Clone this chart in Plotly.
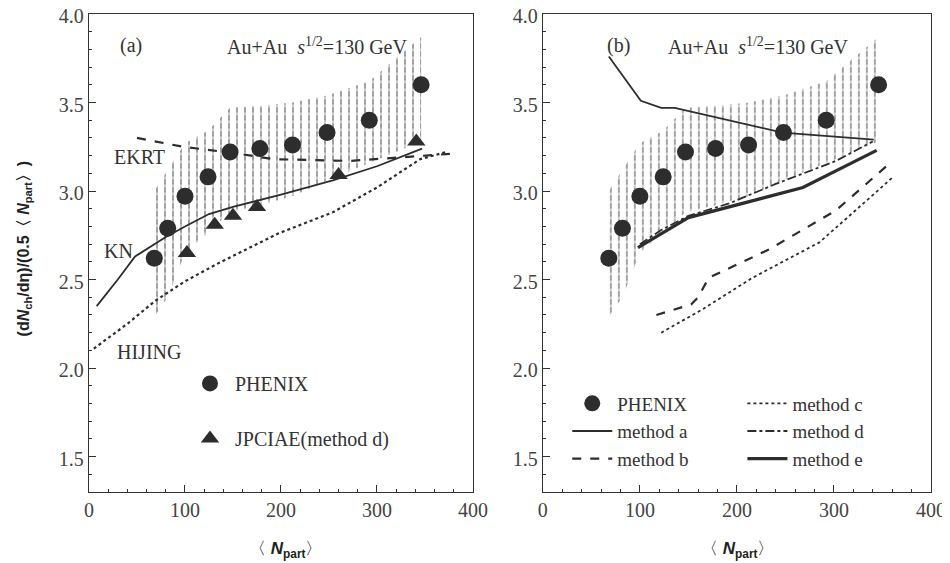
import plotly.graph_objects as go
from plotly.subplots import make_subplots

# PHENIX data with systematic band (both panels)
phenix_npart = [68, 82, 100, 124, 147, 178, 212, 248, 292, 346]
phenix_val = [2.62, 2.79, 2.97, 3.08, 3.22, 3.24, 3.26, 3.33, 3.40, 3.60]
band_hi = [3.00, 3.12, 3.27, 3.34, 3.47, 3.48, 3.50, 3.54, 3.62, 3.87]
band_lo = [2.29, 2.40, 2.65, 2.77, 2.88, 2.92, 2.97, 3.06, 3.16, 3.28]

# panel (a)
jpciae_npart = [102, 131, 150, 175, 260, 341]
jpciae_val = [2.65, 2.81, 2.86, 2.91, 3.09, 3.28]
kn_npart = [8, 30, 48, 65, 80, 100, 125, 150, 200, 254, 300, 347]
kn_val = [2.35, 2.50, 2.63, 2.69, 2.74, 2.80, 2.87, 2.91, 2.98, 3.06, 3.14, 3.24]
ekrt_npart = [50, 98, 157, 192, 272, 330, 376]
ekrt_val = [3.30, 3.25, 3.21, 3.18, 3.17, 3.19, 3.21]
hijing_npart = [5, 40, 69, 100, 134, 197, 254, 300, 345, 372]
hijing_val = [2.11, 2.25, 2.38, 2.49, 2.59, 2.76, 2.88, 3.02, 3.18, 3.22]

# panel (b)
ma_npart = [68, 101, 122, 136, 247, 341]
ma_val = [3.76, 3.51, 3.47, 3.47, 3.33, 3.29]
mb_npart = [117, 153, 160, 171, 233, 302, 354]
mb_val = [2.30, 2.36, 2.40, 2.51, 2.67, 2.89, 3.14]
mc_npart = [122, 164, 216, 285, 320, 361]
mc_val = [2.20, 2.33, 2.51, 2.71, 2.88, 3.08]
md_npart = [100, 122, 150, 192, 240, 302, 340]
md_val = [2.70, 2.78, 2.86, 2.93, 3.04, 3.17, 3.28]
me_npart = [98, 150, 268, 344]
me_val = [2.68, 2.85, 3.02, 3.23]

INK = '#2d2d2d'
SERIF = 'Liberation Serif'

fig = make_subplots(rows=1, cols=2)

# error band: vertical hatching, then white horizontal stripes to break it into dashes
for col in (1, 2):
    for shape, color, solid in (('|', '#3a3a3a', 0.24), ('-', 'white', 0.35)):
        fig.add_trace(go.Scatter(x=phenix_npart, y=band_lo, mode='lines', line=dict(width=0),
                                 showlegend=False, hoverinfo='skip'), row=1, col=col)
        fig.add_trace(go.Scatter(x=phenix_npart, y=band_hi, mode='lines', line=dict(width=0),
                                 fill='tonexty', fillcolor='rgba(0,0,0,0)',
                                 fillpattern=dict(shape=shape, size=8, solidity=solid,
                                                  fgcolor=color, bgcolor='rgba(0,0,0,0)'),
                                 showlegend=False, hoverinfo='skip'), row=1, col=col)

# panel (a) curves
fig.add_trace(go.Scatter(x=hijing_npart, y=hijing_val, mode='lines', line=dict(color=INK, width=2.2, dash='dot'),
                         showlegend=False), row=1, col=1)
fig.add_trace(go.Scatter(x=kn_npart, y=kn_val, mode='lines', line=dict(color=INK, width=1.8),
                         showlegend=False), row=1, col=1)
fig.add_trace(go.Scatter(x=ekrt_npart, y=ekrt_val, mode='lines', line=dict(color=INK, width=2.2, dash='dash'),
                         showlegend=False), row=1, col=1)
fig.add_trace(go.Scatter(x=phenix_npart, y=phenix_val, mode='markers', name='PHENIX',
                         marker=dict(symbol='circle', size=17, color=INK),
                         legend='legend', legendgroup='a1'), row=1, col=1)
fig.add_trace(go.Scatter(x=jpciae_npart, y=jpciae_val, mode='markers', name='JPCIAE(method d)',
                         marker=dict(symbol='triangle-up', size=16, color=INK),
                         legend='legend', legendgroup='a2'), row=1, col=1)

# panel (b) curves
fig.add_trace(go.Scatter(x=phenix_npart, y=phenix_val, mode='markers', name='PHENIX',
                         marker=dict(symbol='circle', size=17, color=INK), legend='legend2'), row=1, col=2)
fig.add_trace(go.Scatter(x=ma_npart, y=ma_val, mode='lines', name='method a',
                         line=dict(color=INK, width=1.8), legend='legend2'), row=1, col=2)
fig.add_trace(go.Scatter(x=mb_npart, y=mb_val, mode='lines', name='method b',
                         line=dict(color=INK, width=2.2, dash='dash'), legend='legend2'), row=1, col=2)
fig.add_trace(go.Scatter(x=mc_npart, y=mc_val, mode='lines', name='method c',
                         line=dict(color=INK, width=1.8, dash='dot'), legend='legend3'), row=1, col=2)
fig.add_trace(go.Scatter(x=md_npart, y=md_val, mode='lines', name='method d',
                         line=dict(color=INK, width=1.8, dash='dashdot'), legend='legend3'), row=1, col=2)
fig.add_trace(go.Scatter(x=me_npart, y=me_val, mode='lines', name='method e',
                         line=dict(color=INK, width=3.2), legend='legend3'), row=1, col=2)

axis_common = dict(showline=True, linecolor='#333', linewidth=1.3, mirror=True, showgrid=False,
                   zeroline=False, ticks='inside', ticklen=7, tickcolor='#333', ticklabeloverflow='allow',
                   automargin=False, tickfont=dict(family=SERIF, size=20, color='#444'))
fig.update_xaxes(range=[0, 400], dtick=100, minor=dict(dtick=20, ticks='inside', ticklen=3, tickcolor='#333'),
                 **axis_common)
fig.update_yaxes(range=[1.3, 4.0], tick0=1.5, dtick=0.5, tickformat='.1f', ticklabelshift=2,
                 minor=dict(dtick=0.1, ticks='inside', ticklen=3, tickcolor='#333'), **axis_common)
fig.update_layout(xaxis=dict(domain=[0, 0.456]), xaxis2=dict(domain=[0.539, 1.0]))

lab = dict(family=SERIF, size=20, color='#333')
notes = [
    ('x', 'y', 44, 3.82, '(a)'),
    ('x', 'y', 238, 3.82, 'Au+Au  <i>s</i><sup>1/2</sup>=130 GeV'),
    ('x', 'y', 53, 3.19, 'EKRT'),
    ('x', 'y', 31, 2.66, 'KN'),
    ('x', 'y', 63, 2.09, 'HIJING'),
    ('x2', 'y2', 78, 3.82, '(b)'),
    ('x2', 'y2', 222, 3.82, 'Au+Au  <i>s</i><sup>1/2</sup>=130 GeV'),
]
for xr, yr, xv, yv, txt in notes:
    fig.add_annotation(xref=xr, yref=yr, x=xv, y=yv, text=txt, showarrow=False, font=lab)

title_font = dict(family='Liberation Sans', size=17, color='#222')
for xp in (0.233, 0.77):
    fig.add_annotation(xref='paper', yref='paper', x=xp, y=-0.121, xanchor='center', yanchor='middle',
                       showarrow=False, font=title_font, text='〈 <b><i>N</i><sub>part</sub></b>〉')
fig.add_annotation(xref='paper', yref='paper', x=-0.077, y=0.51, xanchor='center', yanchor='middle',
                   showarrow=False, font=dict(family='Liberation Sans', size=16, color='#222'),
                   textangle=-90,
                   text='<b>(d<i>N</i><sub>ch</sub>/dη)/(0.5〈 <i>N</i><sub>part</sub>〉)</b>')

leg_font = dict(family=SERIF, size=20, color='#333')
leg_font_b = dict(family=SERIF, size=19, color='#333')
fig.update_layout(
    width=942, height=555,
    margin=dict(l=81, r=19, t=6, b=71, autoexpand=False),
    paper_bgcolor='white', plot_bgcolor='white',
    legend=dict(x=0.114, y=0.268, xanchor='left', yanchor='top', font=leg_font,
                traceorder='grouped', tracegroupgap=26, itemwidth=40, bgcolor='rgba(0,0,0,0)'),
    legend2=dict(x=0.568, y=0.225, xanchor='left', yanchor='top', font=leg_font_b,
                 traceorder='normal', itemwidth=40, bgcolor='rgba(0,0,0,0)'),
    legend3=dict(x=0.776, y=0.225, xanchor='left', yanchor='top', font=leg_font_b,
                 traceorder='normal', itemwidth=40, bgcolor='rgba(0,0,0,0)'),
)

fig.write_html("out.html")
